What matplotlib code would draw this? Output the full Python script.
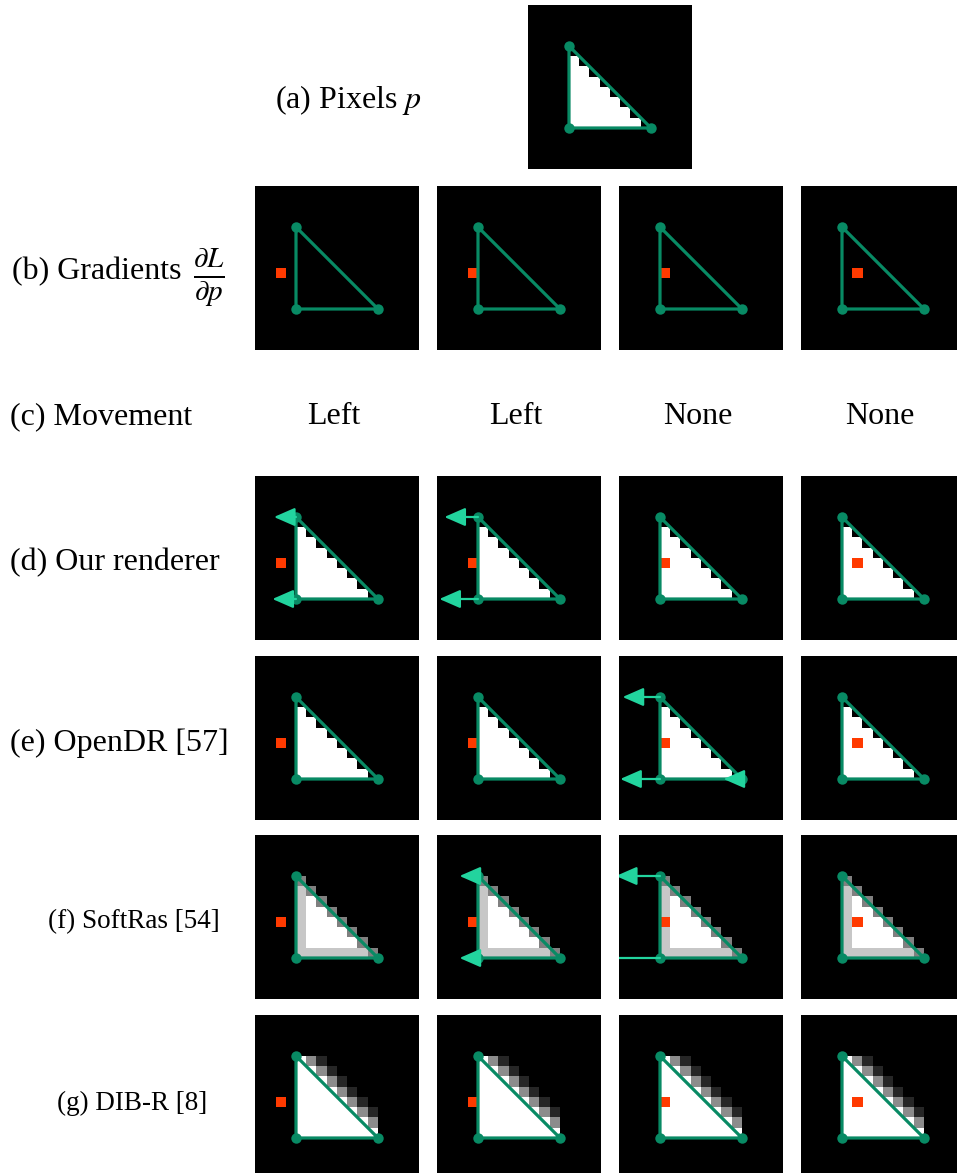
import numpy as np
import matplotlib
matplotlib.use("Agg")
import matplotlib.pyplot as plt
from matplotlib.patches import Rectangle, FancyArrowPatch

plt.rcParams["font.family"] = ["Liberation Serif", "DejaVu Serif"]
plt.rcParams["mathtext.fontset"] = "stix"

W, H = 957, 1173
S = 164          # panel size in px
GRID = 16        # pixel grid of the toy image

# triangle vertices (x, y) in pixel units, y pointing down
tri_x = [4, 4, 12]
tri_y = [4, 12, 12]

# hard raster: (row, first col, last col) of covered pixels
hard_spans = [(5, 4, 4), (6, 4, 5), (7, 4, 6), (8, 4, 7),
              (9, 4, 8), (10, 4, 9), (11, 4, 10)]

# SoftRas grey levels, rows 4..11 starting at col 4
softras_rows = [
    [0.5],
    [0.78, 0.5],
    [0.78, 1.0, 0.5],
    [0.78, 1.0, 1.0, 0.5],
    [0.78, 1.0, 1.0, 1.0, 0.5],
    [0.78, 1.0, 1.0, 1.0, 1.0, 0.5],
    [0.78, 1.0, 1.0, 1.0, 1.0, 1.0, 0.5],
    [0.78, 0.78, 0.78, 0.78, 0.78, 0.78, 0.78, 0.5],
]

# DIB-R grey levels, rows 4..11 starting at col 4
dibr_rows = [
    [1.0, 0.55, 0.15],
    [1.0, 1.0, 0.55, 0.15],
    [1.0, 1.0, 1.0, 0.55, 0.15],
    [1.0, 1.0, 1.0, 1.0, 0.55, 0.15],
    [1.0, 1.0, 1.0, 1.0, 1.0, 0.55, 0.15],
    [1.0, 1.0, 1.0, 1.0, 1.0, 1.0, 0.55, 0.15],
    [1.0, 1.0, 1.0, 1.0, 1.0, 1.0, 1.0, 0.55],
    [1.0, 1.0, 1.0, 1.0, 1.0, 1.0, 1.0, 1.0],
]

# target pixel (col) per column, all in row 8
red_cols = [2, 3, 4, 5]
red_row = 8

movement = ["Left", "Left", "None", "None"]

# vertex gradients: (vertex x, vertex y, arrow tip x)
arrows_d = [[(4, 4, 1.85), (4, 12, 1.7)], [(4, 4, 0.72), (4, 12, 0.23)], [], []]
arrows_e = [[], [], [(4, 4, 0.35), (4, 12, 0.12), (12, 12, 10.2)], []]
arrows_f = [[], [(4, 4, 2.2), (4, 12, 2.2)], [(4, 4, -0.3), (4, 12, -3.5)], []]

col_left = [255, 437, 619, 801]
row_top = {"b": 186, "d": 476, "e": 656, "f": 835, "g": 1015}

GREEN = "#088a64"
MINT = "#22d49e"
RED = "#ff3a00"


def raster_hard():
    img = np.zeros((GRID, GRID))
    for r, c0, c1 in hard_spans:
        img[r, c0:c1 + 1] = 1.0
    return img


def raster_rows(rows):
    img = np.zeros((GRID, GRID))
    for k, vals in enumerate(rows):
        img[4 + k, 4:4 + len(vals)] = vals
    return img


def panel(left, top, img=None, red=None, arrows=()):
    ax = plt.gcf().add_axes([left / W, 1 - (top + S) / H, S / W, S / H])
    ax.set_facecolor("black")
    if img is not None:
        ax.imshow(img, cmap="gray", vmin=0, vmax=1, interpolation="nearest",
                  extent=[0, GRID, GRID, 0], zorder=0)
    if red is not None:
        ax.add_patch(Rectangle((red, red_row), 1, 1, color=RED, lw=0, zorder=2))
    ax.plot(tri_x + tri_x[:1], tri_y + tri_y[:1], color=GREEN, lw=2.3,
            solid_capstyle="round", zorder=3)
    ax.plot(tri_x, tri_y, "o", color=GREEN, ms=7.5, mec="none", zorder=4)
    for vx, vy, tx in arrows:
        ax.add_patch(FancyArrowPatch((vx, vy), (tx, vy),
                                     arrowstyle="-|>,head_length=0.8,head_width=0.35",
                                     mutation_scale=16, color=MINT, lw=1.6,
                                     shrinkA=0, shrinkB=0, zorder=5))
    ax.set_xlim(0, GRID)
    ax.set_ylim(GRID, 0)
    ax.set_xticks([])
    ax.set_yticks([])
    for sp in ax.spines.values():
        sp.set_visible(False)
    return ax


fig = plt.figure(figsize=(W / 100, H / 100), dpi=100)

hard = raster_hard()
soft = raster_rows(softras_rows)
dibr = raster_rows(dibr_rows)

panel(528, 5, hard)
for i in range(4):
    panel(col_left[i], row_top["b"], None, red_cols[i])
    panel(col_left[i], row_top["d"], hard, red_cols[i], arrows_d[i])
    panel(col_left[i], row_top["e"], hard, red_cols[i], arrows_e[i])
    panel(col_left[i], row_top["f"], soft, red_cols[i], arrows_f[i])
    panel(col_left[i], row_top["g"], dibr, red_cols[i])


def label(x, y, s, ha="left", size=23):
    fig.text(x / W, 1 - y / H, s, ha=ha, va="center", fontsize=size)


label(275, 100, "(a) Pixels $p$")
label(12, 272, "(b) Gradients")
label(193, 278, r"$\frac{\partial L}{\partial p}$", size=30)
label(10, 417, "(c) Movement")
for i, m in enumerate(movement):
    label(col_left[i] + S / 2 - 3, 417, m, ha="center")
label(10, 563, "(d) Our renderer")
label(10, 743, "(e) OpenDR [57]")
label(48, 922, "(f) SoftRas [54]", size=19.5)
label(57, 1103, "(g) DIB-R [8]", size=19.5)

fig.savefig("out.png", dpi=100)
